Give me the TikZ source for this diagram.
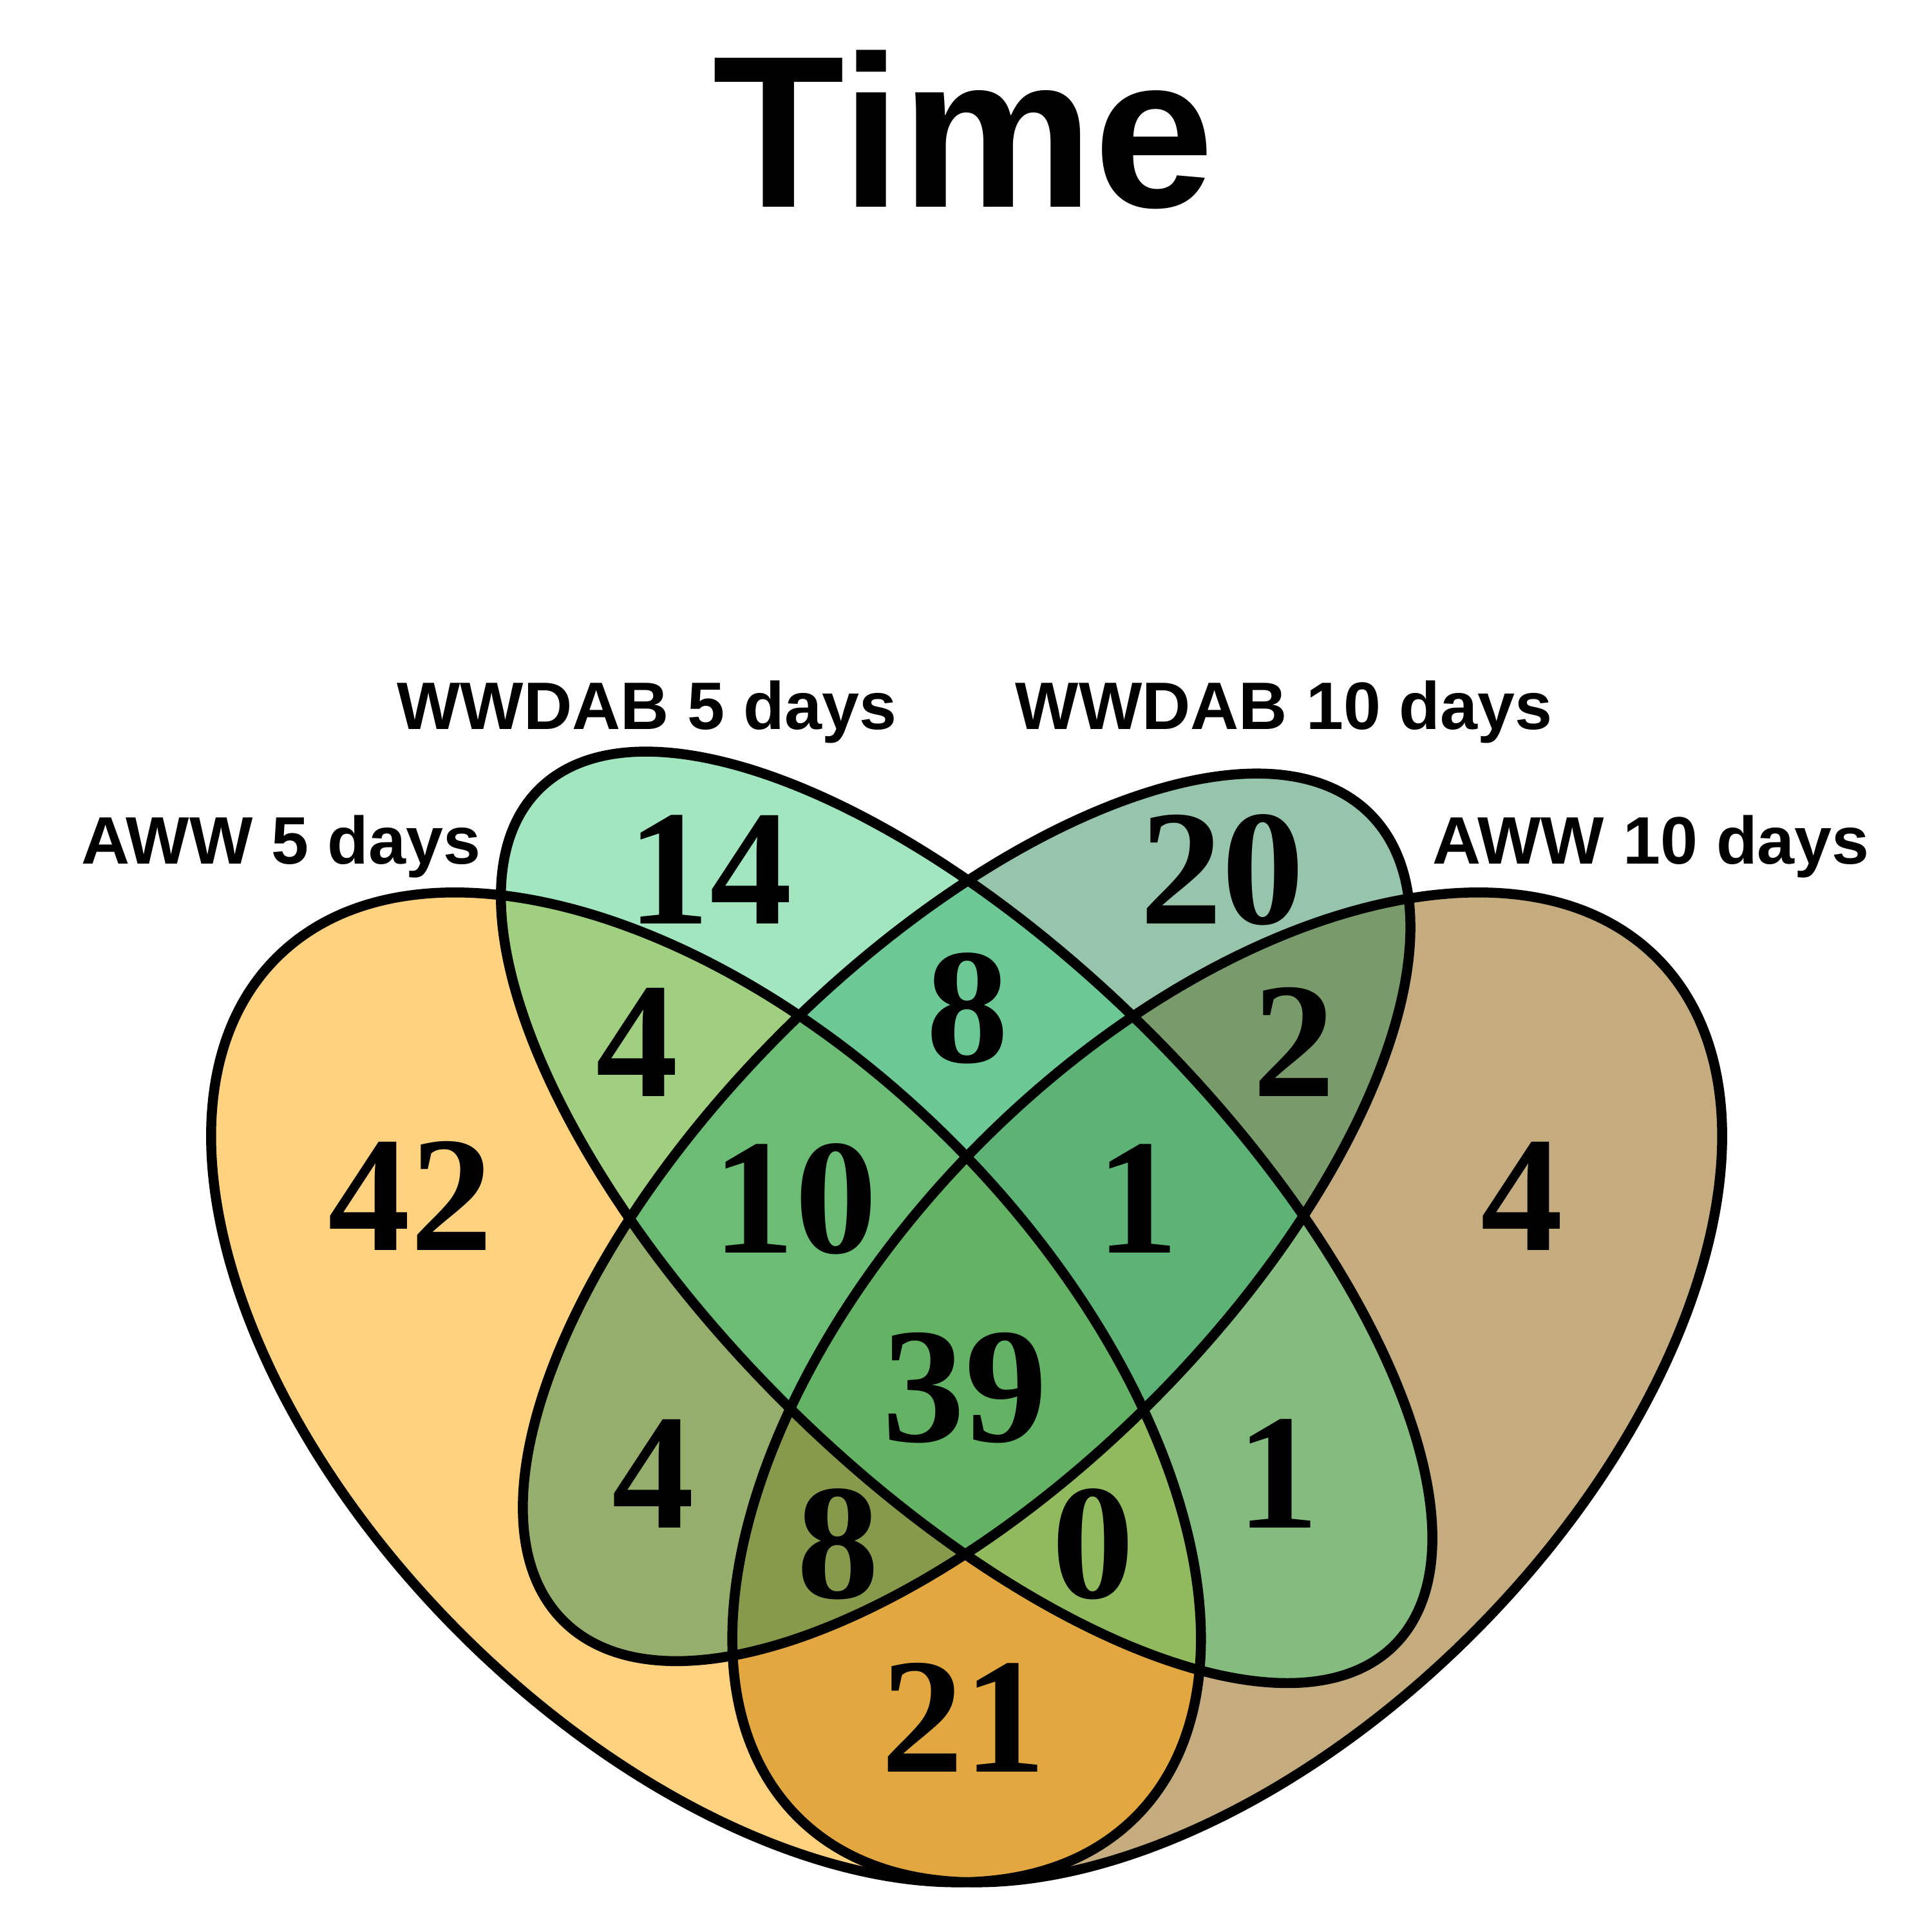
\documentclass[tikz,border=0pt]{standalone}
\usepackage{fontspec}
\setmainfont{Liberation Serif}
\setsansfont{Liberation Sans}
\usetikzlibrary{positioning}

\definecolor{awwfive}{RGB}{255,165,0}
\definecolor{wwdfive}{RGB}{67,205,128}
\definecolor{wwdten}{RGB}{46,139,87}
\definecolor{awwten}{RGB}{139,90,0}

\begin{document}
\begin{tikzpicture}[
  rim/.style={draw=black, line width=2.3pt},
  num/.style={font=\fontsize{38}{38}\selectfont\bfseries, anchor=base},
  cat/.style={font=\fontsize{15.5}{16}\selectfont\sffamily\bfseries, anchor=base},
  ttl/.style={font=\fontsize{50}{50}\selectfont\sffamily\bfseries, anchor=base}]
\useasboundingbox (0,0) rectangle (15.68,15.68);
% fills first, same order as R laid them down
\foreach \cx/\cy/\ang/\ra/\rb/\col in {9.96/4.42/45/4.93/2.82/awwten,
    5.73/4.42/-45/4.93/2.82/awwfive, 7.845/5.80/45/4.63/2.12/wwdten,
    7.845/5.80/-45/4.91/2.11/wwdfive}{
  \fill[\col, fill opacity=0.5, shift={(\cx,\cy)}, rotate=\ang]
    (0,0) ellipse [x radius=\ra, y radius=\rb];
}
% then the outlines
\foreach \cx/\cy/\ang/\ra/\rb in {9.96/4.42/45/4.93/2.82,
    5.73/4.42/-45/4.93/2.82, 7.845/5.80/45/4.63/2.12,
    7.845/5.80/-45/4.91/2.11}{
  \draw[rim, shift={(\cx,\cy)}, rotate=\ang]
    (0,0) ellipse [x radius=\ra, y radius=\rb];
}
\node[ttl] (title) at (7.82,14.00) {Time};
\node[cat] (catA) at (2.28,8.67) {AWW 5 days};
\node[cat] (catB) at (5.25,9.76) {WWDAB 5 days};
\node[cat] (catC) at (10.42,9.76) {WWDAB 10 days};
\node[cat] (catD) at (13.40,8.67) {AWW 10 days};
% region counts
\foreach \n/\x/\y/\v in {a/5.76/8.18/14, b/9.92/8.18/20, c/5.17/6.78/4,
    d/7.85/7.06/8, e/10.50/6.78/2, f/3.33/5.53/42, g/6.45/5.51/10,
    h/9.23/5.51/1, i/12.35/5.53/4, j/7.83/3.98/39, k/5.30/3.28/4,
    l/6.80/2.71/8, m/8.87/2.71/0, n/10.37/3.28/1, o/7.82/1.30/21}{
  \node[num] (\n) at (\x,\y) {\v};
}
\end{tikzpicture}
\end{document}
